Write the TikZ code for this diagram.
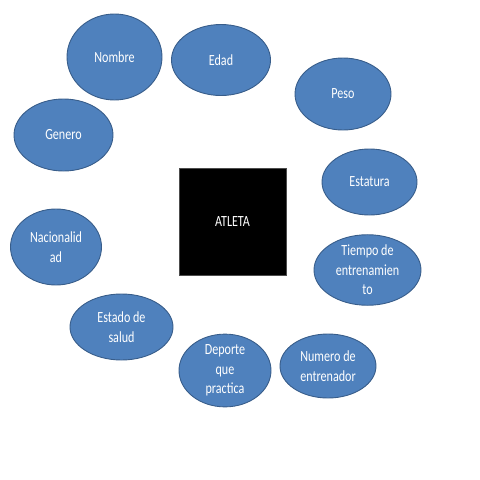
\documentclass[tikz,border=0pt]{standalone}
\usepackage{fontspec}
\setmainfont{Carlito}[FakeStretch=0.78]
\usetikzlibrary{shapes.geometric}
\definecolor{attrfill}{HTML}{4F81BD}
\definecolor{attrline}{HTML}{385D8A}
\tikzset{
  attr/.style={ellipse, fill=attrfill, draw=attrline, line width=0.9pt,
    text=white, inner sep=0pt, align=center,
    font=\fontsize{15.5}{19.5}\selectfont},
  entity/.style={rectangle, fill=black, draw=black!70, line width=0.6pt,
    text=white, inner sep=0pt, minimum width=107pt, minimum height=107pt,
    font=\fontsize{15.5}{19.5}\selectfont}
}
\begin{document}
\begin{tikzpicture}[x=1pt,y=-1pt]
\useasboundingbox (0,0) rectangle (480,480);
\node[entity] (atleta) at (232.5,222) {ATLETA};
\node[attr, minimum width=95pt, minimum height=86pt] (nombre) at (114.5,57) {Nombre};
\node[attr, minimum width=99pt, minimum height=71pt] (edad) at (221,60) {Edad};
\node[attr, minimum width=96pt, minimum height=72pt] (peso) at (343,94) {Peso};
\node[attr, minimum width=99pt, minimum height=72pt] (genero) at (63.5,135) {Genero};
\node[attr, minimum width=95pt, minimum height=66pt] (estatura) at (369.5,182) {Estatura};
\node[attr, minimum width=91pt, minimum height=76pt] (nacionalidad) at (56,247) {Nacionalid\\ad};
\node[attr, minimum width=107pt, minimum height=70pt] (tiempo) at (367.5,270) {Tiempo de\\entrenamien\\to};
\node[attr, minimum width=103pt, minimum height=66pt] (estado) at (121.5,327) {Estado de\\salud};
\node[attr, minimum width=92pt, minimum height=71pt] (deporte) at (225,370.5) {Deporte\\que\\practica};
\node[attr, minimum width=96pt, minimum height=64pt] (numero) at (328,366) {Numero de\\entrenador};
\end{tikzpicture}
\end{document}
